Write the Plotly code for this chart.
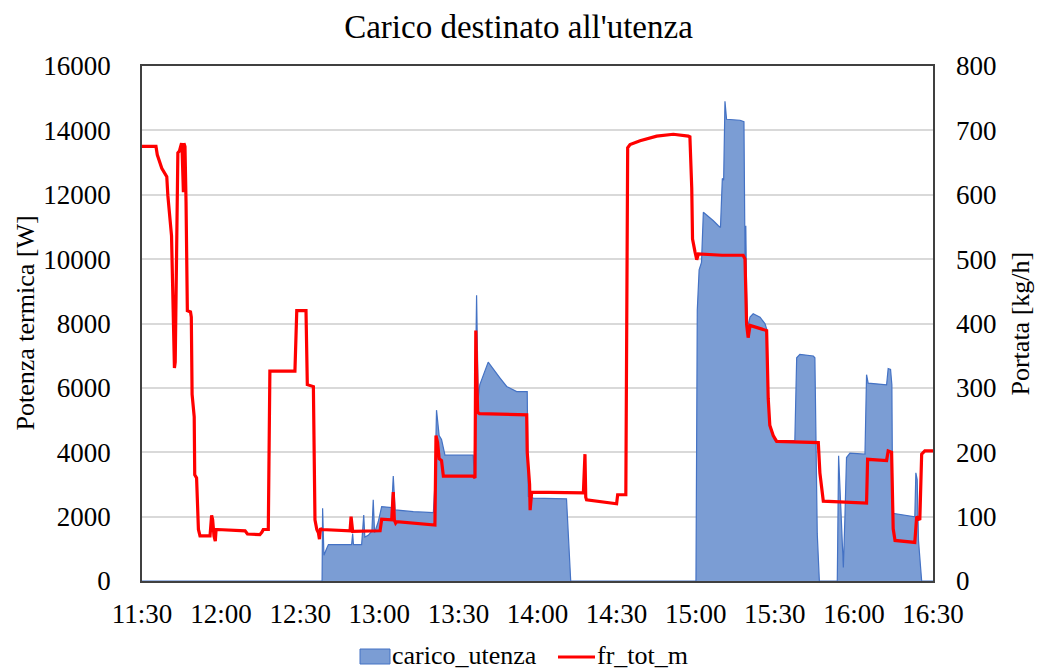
import pandas as pd
import plotly.graph_objects as go

# Minutes elapsed since 11:30 for each sample
carico_min = [0, 68.3, 68.5, 69.0, 70.0, 70.7, 79.5, 79.9, 80.2, 83.3, 84.1, 84.5, 85.8, 87.2,
              87.7, 88.2, 89.6, 90.9, 94.7, 95.3, 96.0, 102.9, 110.5, 111.1, 111.7, 112.7,
              113.6, 114.9, 125.6, 126.0, 126.9, 127.5, 128.1, 131.3, 135.8, 138.3, 142.1,
              146.1, 146.5, 148.4, 161.0, 161.7, 162.6, 210.1, 210.6, 211.3, 212.2, 212.9,
              214.5, 216.7, 218.6, 219.4, 220.1, 220.6, 221.1, 221.7, 226.8, 228.3, 228.7,
              229.0, 229.3, 229.7, 230.6, 231.8, 234.4, 236.3, 237.1, 237.5, 238.1, 240.0,
              247.6, 248.3, 249.5, 254.6, 255.2, 255.6, 256.1, 256.9, 263.7, 264.2, 264.9,
              266.0, 266.6, 267.2, 268.5, 274.2, 274.8, 275.4, 282.4, 283.0, 283.9, 284.4,
              284.7, 292.5, 293.1, 293.5, 294.0, 294.5, 295.3, 295.7, 300]
# carico_utenza [W]
carico_utenza = [0, 0, 2260, 800, 1000, 1130, 1130, 1470, 1130, 1130, 2050, 1366, 1420, 1550,
                 2522, 1500, 1840, 2312, 2280, 3258, 2207, 2155, 2123, 3000, 5308, 4519,
                 4400, 3910, 3910, 3300, 8881, 5675, 6096, 6800, 6306, 6043, 5886,
                 5886, 2628, 2575, 2554, 1471, 0, 0, 8408, 9670, 9900, 11456,
                 11350, 11193, 11036, 10983, 12507, 12450, 14903, 14346, 14314, 14272, 10000,
                 11036, 9000, 7883, 8198, 8303, 8198, 7988, 7777, 5700, 4800, 4362,
                 4362, 6937, 7042, 6990, 6937, 4200, 1471, 0, 0, 3889, 2500,
                 420, 2000, 3836, 3973, 3941, 6411, 6148, 6096, 6600, 6570, 6096,
                 2102, 1997, 1997, 3363, 3153, 1260, 210, 0, 0]

portata_min = [0, 5.3, 5.8, 7.5, 9.4, 9.8, 11.2, 12.0, 12.3, 12.6, 13.0, 13.6, 14.2, 15.0,
               15.2, 15.4, 15.7, 15.9, 16.3, 16.7, 17.2, 18.4, 18.7, 19.0, 19.8, 20.0, 20.7,
               21.4, 22.0, 25.8, 26.1, 26.4, 26.8, 27.3, 27.8, 28.1, 28.6, 39.1, 40.0, 44.7,
               45.5, 46.0, 47.9, 48.5, 58.0, 58.7, 62.2, 62.7, 65.0, 65.6, 66.3, 66.9, 67.3,
               67.7, 68.1, 78.9, 79.3, 79.6, 79.9, 90.3, 90.9, 94.7, 95.0, 95.3, 95.7, 96.2,
               96.6, 111.1, 111.5, 112.1, 112.7, 113.6, 114.3, 114.9, 125.6, 126.3, 126.6,
               126.9, 127.3, 128.0, 145.9, 146.1, 147.0, 147.2, 147.8, 167.4, 167.7, 168.0,
               168.3, 168.6, 180.0, 180.4, 183.5, 184.2, 185.1, 188.9, 195.2, 201.5, 207.2,
               207.8, 208.5, 208.8, 209.7, 210.4, 211.0, 220.0, 228.0, 228.7, 229.3, 229.9,
               230.6, 236.9, 237.5, 238.1, 239.4, 240.7, 256.5, 257.1, 258.4, 274.8, 275.2,
               282.4, 283.0, 284.3, 284.9, 285.6, 293.1, 293.8, 295.0, 295.7, 296.9, 300]
# fr_tot_m [kg/h]
fr_tot_m = [675, 675, 662, 641, 628, 599, 536, 400, 331, 340, 500, 665, 668, 680,
            670, 604, 604, 680, 675, 589, 420, 418, 410, 290, 255, 165, 160,
            80, 70, 70, 95, 102, 95, 70, 62, 80, 80, 78, 73, 72,
            76, 80, 80, 326, 326, 420, 420, 305, 302, 95, 80, 75, 65,
            82, 80, 78, 100, 90, 77, 78, 96, 95, 130, 138, 95, 90,
            92, 87, 226, 215, 190, 187, 163, 163, 163, 160, 389,
            330, 262, 260, 258, 200, 150, 110, 138, 137, 197, 197,
            130, 126, 120, 134, 134, 673, 678, 684, 691, 694, 691,
            690, 610, 531, 512, 499, 508, 506, 506, 500, 399, 378,
            397, 389, 284, 242, 226, 217, 215, 168, 124, 121, 189,
            187, 202, 200, 81, 63, 60, 100, 95, 197, 202, 202]

x_ticks = ["11:30", "12:00", "12:30", "13:00", "13:30", "14:00",
           "14:30", "15:00", "15:30", "16:00", "16:30"]

start = pd.Timestamp("2021-01-01 11:30")
t_carico = start + pd.to_timedelta(carico_min, unit="min")
t_portata = start + pd.to_timedelta(portata_min, unit="min")
tick_vals = [pd.Timestamp("2021-01-01 " + s) for s in x_ticks]

FONT = "Liberation Serif"
BLUE_FILL = "#7B9DD4"
BLUE_LINE = "#4472C4"
RED = "#FF0000"

# plot-area geometry in pixels, used to place the legend keys in paper units
W, H = 1037, 671
L, R, T, B = 142, 104, 66, 90
PW, PH = W - L - R, H - T - B


def px(x):
    return (x - L) / PW


def py(y):
    return (H - B - y) / PH


fig = go.Figure()
fig.add_trace(go.Scatter(
    x=t_carico, y=carico_utenza, name="carico_utenza", mode="lines",
    fill="tozeroy", fillcolor=BLUE_FILL,
    line=dict(color=BLUE_LINE, width=1.2), yaxis="y", showlegend=False))
fig.add_trace(go.Scatter(
    x=t_portata, y=fr_tot_m, name="fr_tot_m", mode="lines",
    line=dict(color=RED, width=3.2), yaxis="y2", showlegend=False))

# legend keys drawn below the x axis
legend_y = 655
shapes = [
    dict(type="rect", xref="paper", yref="paper", x0=px(360), x1=px(390),
         y0=py(legend_y + 9), y1=py(legend_y - 6), fillcolor=BLUE_FILL,
         line=dict(color=BLUE_LINE, width=1)),
    dict(type="line", xref="paper", yref="paper", x0=px(558), x1=px(595),
         y0=py(legend_y + 2), y1=py(legend_y + 2), line=dict(color=RED, width=3.2)),
]

fig.update_layout(
    width=W, height=H,
    margin=dict(l=L, r=R, t=T, b=B),
    paper_bgcolor="white", plot_bgcolor="white",
    font=dict(family=FONT, size=27, color="black"),
    showlegend=False,
    title=dict(text="Carico destinato all'utenza", x=0.5, xanchor="center",
               y=1 - 26 / H, yanchor="middle", font=dict(size=33, color="black")),
    xaxis=dict(type="date", range=[tick_vals[0], tick_vals[-1]],
               tickvals=tick_vals, ticktext=x_ticks, showgrid=False,
               showline=True, mirror=True, linecolor="#404040", linewidth=1.5,
               ticks="", ticklabelstandoff=8, zeroline=False),
    yaxis=dict(range=[0, 16000], dtick=2000, tickformat="d", showgrid=True,
               gridcolor="#D9D9D9", gridwidth=1.5, showline=True, mirror=True,
               linecolor="#404040", linewidth=1.5, ticks="", ticklabelstandoff=24,
               zeroline=False),
    yaxis2=dict(range=[0, 800], dtick=100, tickformat="d", overlaying="y", side="right",
                showgrid=False, showline=False, ticks="", ticklabelstandoff=22,
                zeroline=False),
    shapes=shapes,
    annotations=[
        dict(text="Potenza termica [W]", xref="paper", yref="paper",
             x=px(25), y=0.5, xanchor="center", yanchor="middle",
             textangle=-90, showarrow=False, font=dict(size=26)),
        dict(text="Portata [kg/h]", xref="paper", yref="paper",
             x=px(1020), y=0.5, xanchor="center", yanchor="middle",
             textangle=-90, showarrow=False, font=dict(size=26)),
        dict(text="carico_utenza", xref="paper", yref="paper",
             x=px(391), y=py(legend_y), xanchor="left", yanchor="middle",
             showarrow=False, borderpad=0, font=dict(size=26)),
        dict(text="fr_tot_m", xref="paper", yref="paper",
             x=px(596), y=py(legend_y), xanchor="left", yanchor="middle",
             showarrow=False, borderpad=0, font=dict(size=26)),
    ],
)

fig.write_html("out.html")
